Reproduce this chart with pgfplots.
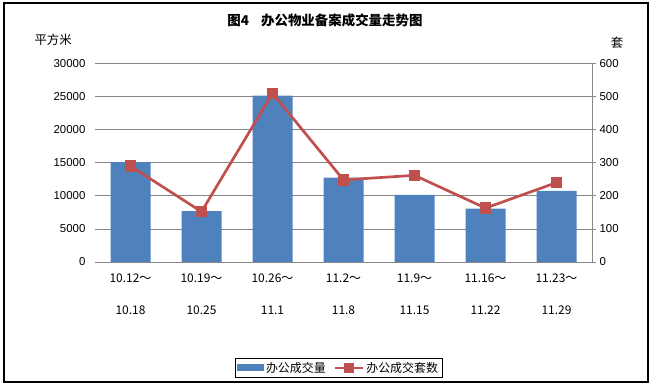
\documentclass[border=0pt]{standalone}
\usepackage{fontspec}
\setmainfont{Liberation Sans}
\newfontfamily\cjk{Noto Sans CJK SC}
\usepackage{pgfplots}
\pgfplotsset{compat=1.18}
\definecolor{barblue}{RGB}{79,129,189}
\definecolor{linered}{RGB}{192,80,77}
\definecolor{gridgray}{RGB}{134,134,134}
\begin{document}
\begin{tikzpicture}
\path[use as bounding box] (0,0) rectangle (651bp,386bp);
\draw[line width=1.2bp] (4bp,4bp) rectangle (648bp,383bp);
\node[font=\cjk\bfseries\fontsize{13.5}{15}\selectfont] at (325bp,366bp) {图4\hspace{12bp}办公物业备案成交量走势图};
\node[font=\cjk\fontsize{12.5}{14}\selectfont, anchor=west] at (31bp,346bp) {平方米};
\node[font=\cjk\fontsize{12.5}{14}\selectfont] at (617bp,343bp) {套};
\begin{axis}[
  scale only axis, width=497bp, height=198.5bp, at={(95bp,124bp)}, anchor=south west,
  xmin=-0.5, xmax=6.5, ymin=0, ymax=30000,
  xtick={0,...,6},
  xticklabels={{10.12～\\[18bp]10.18},{10.19～\\[18bp]10.25},{10.26～\\[18bp]11.1},{11.2～\\[18bp]11.8},{11.9～\\[18bp]11.15},{11.16～\\[18bp]11.22},{11.23～\\[18bp]11.29}},
  ytick={0,5000,...,30000},
  axis line style={draw=none},
  major tick style={draw=none},
  ymajorgrids, grid style={gridgray, line width=0.8bp},
  scaled y ticks=false,
  /pgf/number format/assume math mode=true,
  yticklabel style={/pgf/number format/fixed, /pgf/number format/1000 sep={}, font=\fontsize{11.5}{13}\selectfont, xshift=-6bp},
  xticklabel style={font=\cjk\fontsize{12}{14}\selectfont, align=center, yshift=-8bp},
  legend style={at={(0.49,-0.534)}, anchor=center, legend columns=2, draw=black, line width=0.8bp,
    font=\cjk\fontsize{12}{14}\selectfont, inner sep=2bp,
    /tikz/every even column/.append style={column sep=6bp}},
]
\addplot[ybar, bar width=40bp, fill=barblue, draw=none,
  legend image code/.code={\fill[barblue] (0bp,-3.5bp) rectangle (27bp,3.5bp);}]
  coordinates {(0,15100) (1,7700) (2,25150) (3,12750) (4,10150) (5,8050) (6,10750)};
\addlegendentry{办公成交量}
\addlegendimage{linered, line width=2.5bp, mark=square*, mark size=4bp, mark options={solid, fill=linered},
  legend image code/.code={\draw[mark repeat=2,mark phase=2] plot coordinates {(0bp,0bp) (14bp,0bp) (28bp,0bp)};}}
\addlegendentry{办公成交套数}
\end{axis}
\begin{axis}[
  scale only axis, width=497bp, height=198.5bp, at={(95bp,124bp)}, anchor=south west,
  xmin=-0.5, xmax=6.5, ymin=0, ymax=600,
  axis x line=none, axis y line*=right,
  ytick={0,100,...,600},
  y axis line style={gridgray, line width=0.8bp},
  ytick style={gridgray, line width=0.8bp},
  tick align=outside, major tick length=4bp,
  /pgf/number format/assume math mode=true,
  yticklabel style={font=\fontsize{11.5}{13}\selectfont},
]
\addplot[linered, line width=2.7bp, mark=square*, mark size=4.3bp, mark options={solid, fill=linered}]
  coordinates {(0,290) (1,152) (2,510) (3,248) (4,262) (5,163) (6,240)};
\end{axis}
\end{tikzpicture}
\end{document}
